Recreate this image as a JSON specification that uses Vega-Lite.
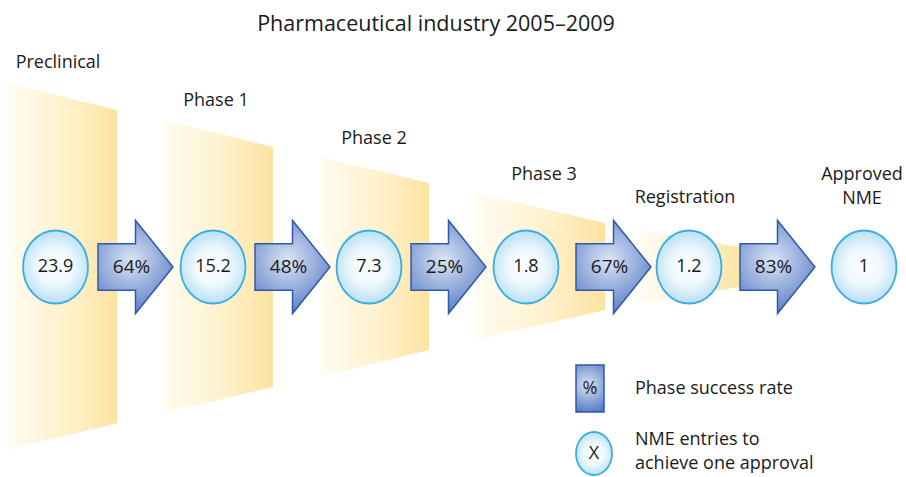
{
  "$schema": "https://vega.github.io/schema/vega-lite/v6.json",
  "width": 906,
  "height": 477,
  "autosize": {"type": "none"},
  "padding": 0,
  "background": "white",
  "config": {"view": {"stroke": null}, "font": "Open Sans", "text": {"font": "Open Sans"}},
  "title": {
    "text": "Pharmaceutical industry 2005–2009",
    "font": "Open Sans",
    "fontSize": 21.5,
    "fontWeight": "normal",
    "color": "#1a1a1a",
    "anchor": "middle",
    "frame": "group",
    "dx": -17,
    "offset": -35
  },
  "datasets": {
    "funnel": [
      {"stage": "Preclinical", "x": 7, "top": 184, "bottom": -183},
      {"stage": "Preclinical", "x": 117, "top": 157, "bottom": -156},
      {"stage": "Phase 1", "x": 163, "top": 147, "bottom": -146},
      {"stage": "Phase 1", "x": 273, "top": 120, "bottom": -120},
      {"stage": "Phase 2", "x": 320, "top": 110, "bottom": -110},
      {"stage": "Phase 2", "x": 429, "top": 84, "bottom": -83},
      {"stage": "Phase 3", "x": 476, "top": 74, "bottom": -73},
      {"stage": "Phase 3", "x": 605, "top": 44, "bottom": -43},
      {"stage": "Registration", "x": 641, "top": 37, "bottom": -36},
      {"stage": "Registration", "x": 745, "top": 19, "bottom": -19}
    ],
    "stages": [
      {"stage": "Preclinical", "label": "Preclinical", "cx": 55.5, "nme": "23.9", "lx": 58, "ly": 204},
      {"stage": "Phase 1", "label": "Phase 1", "cx": 213, "nme": "15.2", "lx": 216, "ly": 166},
      {"stage": "Phase 2", "label": "Phase 2", "cx": 369, "nme": "7.3", "lx": 374, "ly": 128},
      {"stage": "Phase 3", "label": "Phase 3", "cx": 526, "nme": "1.8", "lx": 544, "ly": 92},
      {"stage": "Registration", "label": "Registration", "cx": 689, "nme": "1.2", "lx": 685, "ly": 69},
      {"stage": "Approved NME", "label": "Approved\nNME", "cx": 864, "nme": "1", "lx": 862, "ly": 92}
    ],
    "rates": [
      {"from": "Preclinical", "to": "Phase 1", "ax": 135.5, "rate": "64%"},
      {"from": "Phase 1", "to": "Phase 2", "ax": 292.5, "rate": "48%"},
      {"from": "Phase 2", "to": "Phase 3", "ax": 448.5, "rate": "25%"},
      {"from": "Phase 3", "to": "Registration", "ax": 613.5, "rate": "67%"},
      {"from": "Registration", "to": "Approved NME", "ax": 777.5, "rate": "83%"}
    ],
    "legendRate": [
      {"symbol": "%", "desc": "Phase success rate", "x1": 576, "x2": 604, "y1": -98, "y2": -145, "sx": 590, "sy": -121.5, "tx": 635}
    ],
    "legendNme": [
      {"symbol": "X", "desc": "NME entries to\nachieve one approval", "sx": 594, "sy": -186.5, "tx": 635, "ty": -173}
    ]
  },
  "layer": [
    {
      "data": {"name": "funnel"},
      "mark": {
        "type": "area",
        "interpolate": "linear",
        "fill": {
          "gradient": "linear", "x1": 0, "y1": 0, "x2": 1, "y2": 0,
          "stops": [
            {"offset": 0, "color": "#fffcf2"},
            {"offset": 0.55, "color": "#fff1cc"},
            {"offset": 1, "color": "#fde3a0"}
          ]
        },
        "stroke": null
      },
      "encoding": {
        "x": {"field": "x", "type": "quantitative", "scale": {"domain": [0, 906], "nice": false, "zero": false}, "axis": null},
        "y": {"field": "top", "type": "quantitative", "scale": {"domain": [-210, 267], "nice": false, "zero": false}, "axis": null},
        "y2": {"field": "bottom"},
        "detail": {"field": "stage"}
      }
    },
    {
      "data": {"name": "rates"},
      "mark": {
        "type": "point",
        "shape": "M -0.806 -0.5 L 0 -0.5 L 0 -1 L 0.806 0 L 0 1 L 0 0.5 L -0.806 0.5 Z",
        "size": 8649,
        "filled": true,
        "opacity": 1,
        "fillOpacity": 1,
        "fill": {
          "gradient": "radial", "x1": 0.45, "y1": 0.42, "r1": 0, "x2": 0.45, "y2": 0.42, "r2": 0.62,
          "stops": [
            {"offset": 0, "color": "#dbe4f5"},
            {"offset": 1, "color": "#5178c4"}
          ]
        },
        "stroke": "#3358a6",
        "strokeWidth": 1.5
      },
      "encoding": {
        "x": {"field": "ax", "type": "quantitative", "scale": {"domain": [0, 906], "nice": false, "zero": false}, "axis": null},
        "y": {"datum": 0, "type": "quantitative", "scale": {"domain": [-210, 267], "nice": false, "zero": false}, "axis": null}
      }
    },
    {
      "data": {"name": "rates"},
      "mark": {"type": "text", "fontSize": 19, "color": "#1a1a1a", "dx": -4, "baseline": "middle", "align": "center"},
      "encoding": {
        "x": {"field": "ax", "type": "quantitative", "scale": {"domain": [0, 906], "nice": false, "zero": false}, "axis": null},
        "y": {"datum": 0, "type": "quantitative", "scale": {"domain": [-210, 267], "nice": false, "zero": false}, "axis": null},
        "text": {"field": "rate"}
      }
    },
    {
      "data": {"name": "stages"},
      "mark": {
        "type": "point",
        "shape": "M -0.89 0 A 0.89 1 0 1 0 0.89 0 A 0.89 1 0 1 0 -0.89 0 Z",
        "size": 5329,
        "filled": true,
        "opacity": 1,
        "fillOpacity": 1,
        "fill": {
          "gradient": "radial", "x1": 0.5, "y1": 0.5, "r1": 0, "x2": 0.5, "y2": 0.5, "r2": 0.5,
          "stops": [
            {"offset": 0, "color": "#ffffff"},
            {"offset": 0.5, "color": "#eef8fd"},
            {"offset": 1, "color": "#b8e0f5"}
          ]
        },
        "stroke": "#3badE2",
        "strokeWidth": 1.8
      },
      "encoding": {
        "x": {"field": "cx", "type": "quantitative", "scale": {"domain": [0, 906], "nice": false, "zero": false}, "axis": null},
        "y": {"datum": 0, "type": "quantitative", "scale": {"domain": [-210, 267], "nice": false, "zero": false}, "axis": null}
      }
    },
    {
      "data": {"name": "stages"},
      "mark": {"type": "text", "fontSize": 18, "color": "#1a1a1a", "baseline": "middle", "align": "center"},
      "encoding": {
        "x": {"field": "cx", "type": "quantitative", "scale": {"domain": [0, 906], "nice": false, "zero": false}, "axis": null},
        "y": {"datum": 0, "type": "quantitative", "scale": {"domain": [-210, 267], "nice": false, "zero": false}, "axis": null},
        "text": {"field": "nme"}
      }
    },
    {
      "data": {"name": "stages"},
      "mark": {"type": "text", "fontSize": 18, "color": "#1a1a1a", "baseline": "middle", "align": "center", "lineBreak": "\n", "lineHeight": 24},
      "encoding": {
        "x": {"field": "lx", "type": "quantitative", "scale": {"domain": [0, 906], "nice": false, "zero": false}, "axis": null},
        "y": {"field": "ly", "type": "quantitative", "scale": {"domain": [-210, 267], "nice": false, "zero": false}, "axis": null},
        "text": {"field": "label"}
      }
    },
    {
      "data": {"name": "legendRate"},
      "mark": {
        "type": "rect",
        "fill": {
          "gradient": "radial", "x1": 0.45, "y1": 0.42, "r1": 0, "x2": 0.45, "y2": 0.42, "r2": 0.62,
          "stops": [
            {"offset": 0, "color": "#dbe4f5"},
            {"offset": 1, "color": "#5178c4"}
          ]
        },
        "stroke": "#3358a6",
        "strokeWidth": 1.5
      },
      "encoding": {
        "x": {"field": "x1", "type": "quantitative", "scale": {"domain": [0, 906], "nice": false, "zero": false}, "axis": null},
        "x2": {"field": "x2"},
        "y": {"field": "y1", "type": "quantitative", "scale": {"domain": [-210, 267], "nice": false, "zero": false}, "axis": null},
        "y2": {"field": "y2"}
      }
    },
    {
      "data": {"name": "legendRate"},
      "mark": {"type": "text", "fontSize": 18, "color": "#1a1a1a", "baseline": "middle", "align": "center"},
      "encoding": {
        "x": {"field": "sx", "type": "quantitative", "scale": {"domain": [0, 906], "nice": false, "zero": false}, "axis": null},
        "y": {"field": "sy", "type": "quantitative", "scale": {"domain": [-210, 267], "nice": false, "zero": false}, "axis": null},
        "text": {"field": "symbol"}
      }
    },
    {
      "data": {"name": "legendRate"},
      "mark": {"type": "text", "fontSize": 18, "color": "#1a1a1a", "baseline": "middle", "align": "left"},
      "encoding": {
        "x": {"field": "tx", "type": "quantitative", "scale": {"domain": [0, 906], "nice": false, "zero": false}, "axis": null},
        "y": {"field": "sy", "type": "quantitative", "scale": {"domain": [-210, 267], "nice": false, "zero": false}, "axis": null},
        "text": {"field": "desc"}
      }
    },
    {
      "data": {"name": "legendNme"},
      "mark": {
        "type": "point",
        "shape": "M -0.837 0 A 0.837 1 0 1 0 0.837 0 A 0.837 1 0 1 0 -0.837 0 Z",
        "size": 1849,
        "filled": true,
        "opacity": 1,
        "fillOpacity": 1,
        "fill": {
          "gradient": "radial", "x1": 0.5, "y1": 0.5, "r1": 0, "x2": 0.5, "y2": 0.5, "r2": 0.5,
          "stops": [
            {"offset": 0, "color": "#ffffff"},
            {"offset": 0.5, "color": "#eef8fd"},
            {"offset": 1, "color": "#b8e0f5"}
          ]
        },
        "stroke": "#3badE2",
        "strokeWidth": 1.8
      },
      "encoding": {
        "x": {"field": "sx", "type": "quantitative", "scale": {"domain": [0, 906], "nice": false, "zero": false}, "axis": null},
        "y": {"field": "sy", "type": "quantitative", "scale": {"domain": [-210, 267], "nice": false, "zero": false}, "axis": null}
      }
    },
    {
      "data": {"name": "legendNme"},
      "mark": {"type": "text", "fontSize": 18, "color": "#1a1a1a", "baseline": "middle", "align": "center"},
      "encoding": {
        "x": {"field": "sx", "type": "quantitative", "scale": {"domain": [0, 906], "nice": false, "zero": false}, "axis": null},
        "y": {"field": "sy", "type": "quantitative", "scale": {"domain": [-210, 267], "nice": false, "zero": false}, "axis": null},
        "text": {"field": "symbol"}
      }
    },
    {
      "data": {"name": "legendNme"},
      "mark": {"type": "text", "fontSize": 18, "color": "#1a1a1a", "baseline": "middle", "align": "left", "lineBreak": "\n", "lineHeight": 24},
      "encoding": {
        "x": {"field": "tx", "type": "quantitative", "scale": {"domain": [0, 906], "nice": false, "zero": false}, "axis": null},
        "y": {"field": "ty", "type": "quantitative", "scale": {"domain": [-210, 267], "nice": false, "zero": false}, "axis": null},
        "text": {"field": "desc"}
      }
    }
  ]
}
